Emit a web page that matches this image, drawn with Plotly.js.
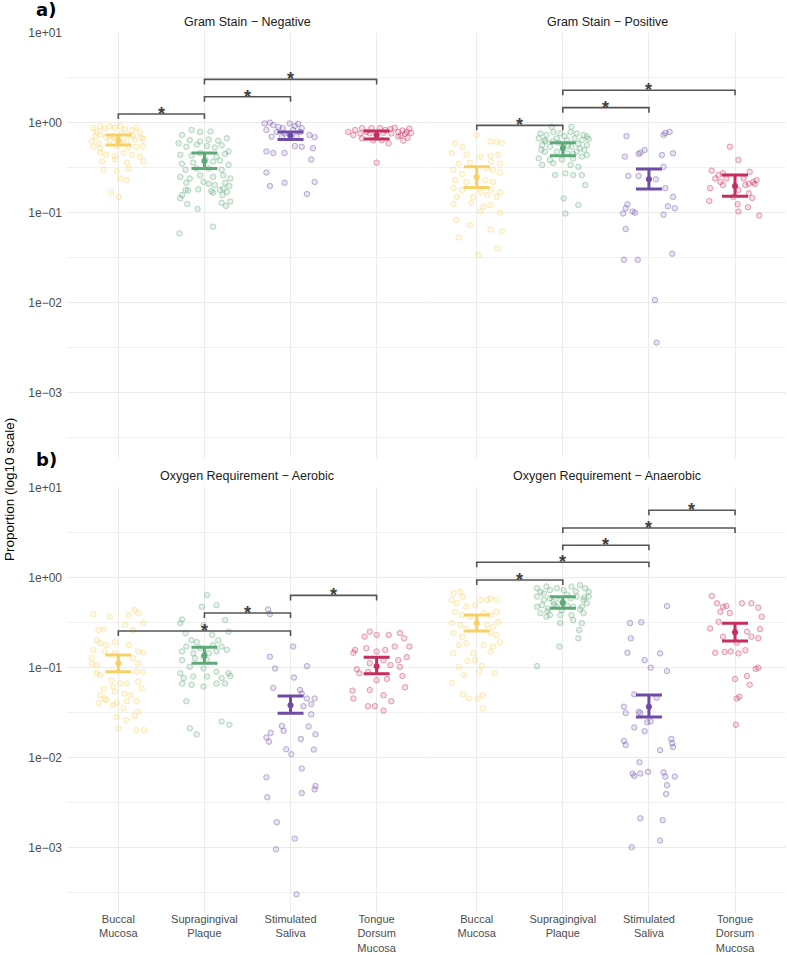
<!DOCTYPE html>
<html>
<head>
<meta charset="utf-8">
<script src="https://cdn.plot.ly/plotly-3.0.1.min.js"></script>
<style>html,body{margin:0;padding:0;background:#fff;}#chart{width:787px;height:955px;}</style>
</head>
<body>
<div id="chart"></div>
<script>
// ---------- DATA ----------
const tickLabels = ["Buccal<br>Mucosa", "Supragingival<br>Plaque", "Stimulated<br>Saliva", "Tongue<br>Dorsum<br>Mucosa"];
const panelTitles = ["Gram Stain − Negative", "Gram Stain − Positive", "Oxygen Requirement − Aerobic", "Oxygen Requirement − Anaerobic"];
const yTickVals = [0.001, 0.01, 0.1, 1, 10];
const yTickText = ["1e−03", "1e−02", "1e−01", "1e+00", "1e+01"];

// Gram negative
const gnBuccal = [0.87,0.79,0.91,0.86,0.90,0.88,0.92,0.85,0.83,0.89,0.78,0.70,0.74,0.69,0.72,0.76,0.73,0.71,0.68,0.62,0.59,0.64,0.67,0.61,0.62,0.65,0.66,0.54,0.52,0.55,0.53,0.54,0.55,0.46,0.44,0.43,0.46,0.44,0.42,0.37,0.39,0.36,0.37,0.30,0.29,0.31,0.24,0.23,0.17,0.15];
const gnBuccalJit = [-0.29,-0.25,-0.21,-0.16,-0.10,-0.04,0.02,0.08,0.16,0.21,0.25,-0.27,-0.21,-0.14,-0.06,0.04,0.12,0.17,0.27,-0.31,-0.23,-0.10,-0.04,0.02,0.10,0.19,0.29,-0.29,-0.21,-0.02,0.12,0.21,0.29,-0.21,-0.14,-0.04,0.06,0.16,0.25,-0.19,-0.04,0.10,0.29,-0.17,-0.02,0.12,0.02,0.10,-0.08,0.00];
const gnSupra = [0.73,0.83,0.79,0.80,0.64,0.62,0.65,0.63,0.67,0.59,0.54,0.57,0.55,0.53,0.56,0.48,0.44,0.43,0.46,0.42,0.45,0.35,0.36,0.39,0.37,0.38,0.34,0.30,0.31,0.31,0.30,0.25,0.24,0.26,0.25,0.26,0.24,0.215,0.145,0.157,0.179,0.176,0.125,0.11,0.182,0.22,0.21,0.174,0.167,0.179,0.157,0.185,0.17,0.198,0.129,0.119,0.133,0.059,0.070,0.203,0.215];
const gnSupraJit = [-0.26,-0.15,-0.05,0.07,-0.17,-0.05,0.05,0.16,0.26,-0.30,-0.21,-0.09,0.03,0.12,0.20,0.28,-0.28,-0.15,-0.05,0.14,0.24,-0.26,-0.13,0.01,0.10,0.18,0.28,-0.22,-0.09,0.05,0.20,-0.28,-0.17,-0.05,0.10,0.22,0.30,-0.21,-0.28,-0.26,-0.22,-0.19,-0.20,-0.08,-0.07,-0.01,0.05,0.08,0.10,0.18,0.21,0.22,0.26,0.29,0.20,0.25,0.30,-0.29,0.10,0.12,0.24];
const gnStim = [0.98,1.0,0.94,0.90,0.87,0.98,0.92,0.97,0.87,0.83,0.79,0.76,0.83,0.79,0.70,0.70,0.73,0.70,0.73,0.69,0.48,0.46,0.46,0.55,0.54,0.52,0.39,0.28,0.215,0.198,0.22,0.161];
const gnStimJit = [-0.30,-0.24,-0.20,-0.14,-0.09,-0.01,0.05,0.09,0.13,-0.28,-0.16,-0.07,0.03,0.11,-0.22,-0.10,-0.01,0.07,0.22,0.28,-0.28,-0.20,-0.07,0.05,0.13,0.26,0.24,-0.28,-0.07,-0.24,0.28,0.19];
const gnTongue = [0.79,0.83,0.87,0.79,0.87,0.87,0.83,0.85,0.88,0.79,0.73,0.76,0.76,0.73,0.77,0.76,0.70,0.64,0.64,0.59,0.67,0.36,0.82,0.75,0.68,0.86,0.63,0.79,0.72,0.77];
const gnTongueJit = [-0.33,-0.25,-0.17,-0.12,-0.06,0.04,0.10,0.16,0.21,0.25,-0.27,-0.19,-0.08,0.00,0.08,0.17,0.25,-0.04,0.06,0.14,-0.17,0.00,0.30,0.33,0.36,0.38,0.31,0.35,0.28,0.40];
const gnMean = [0.64, 0.375, 0.72, 0.73];
const gnLow  = [0.565, 0.31, 0.65, 0.66];
const gnHigh = [0.73, 0.46, 0.79, 0.81];
const gnBrFrom = [0, 1, 1];
const gnBrTo   = [1, 2, 3];
const gnBrY    = [1.25, 1.94, 3.03];

// Gram positive
const gpBuccal = [0.73,0.59,0.54,0.62,0.61,0.59,0.46,0.44,0.42,0.43,0.44,0.35,0.36,0.37,0.35,0.30,0.27,0.31,0.30,0.28,0.23,0.22,0.23,0.22,0.187,0.179,0.17,0.18,0.17,0.15,0.15,0.157,0.15,0.125,0.129,0.117,0.122,0.103,0.10,0.083,0.073,0.065,0.062,0.053,0.040,0.034];
const gpBuccalJit = [0.00,-0.25,-0.17,0.16,0.23,0.29,-0.29,-0.12,0.04,0.16,0.25,-0.21,-0.08,0.17,0.27,-0.27,-0.17,0.12,0.19,0.27,-0.25,-0.12,0.10,0.19,-0.27,-0.17,0.04,0.17,0.27,-0.23,-0.04,0.12,0.23,-0.27,-0.06,0.08,0.16,0.04,0.27,-0.24,-0.08,0.16,0.29,-0.21,0.24,0.02];
const gpSupra = [0.76,0.73,0.79,0.76,0.79,0.76,0.73,0.67,0.64,0.67,0.64,0.67,0.64,0.70,0.565,0.54,0.565,0.54,0.52,0.565,0.476,0.476,0.457,0.476,0.437,0.40,0.385,0.39,0.40,0.42,0.339,0.354,0.339,0.324,0.262,0.274,0.262,0.262,0.203,0.144,0.90,0.90,0.122,0.098,0.62,0.71,0.58,0.60,0.50,0.50,0.45,0.62,0.55,0.66];
const gpSupraJit = [-0.26,-0.19,-0.11,-0.03,0.09,0.16,0.24,-0.28,-0.21,-0.07,0.05,0.14,0.22,0.28,-0.24,-0.15,0.01,0.10,0.20,0.28,-0.21,-0.07,0.05,0.16,0.28,-0.28,-0.15,-0.01,0.12,0.22,-0.24,-0.11,0.09,0.18,-0.09,0.03,0.12,0.22,0.26,0.01,-0.13,0.10,0.18,0.03,-0.20,0.02,0.18,-0.05,0.25,-0.25,0.12,-0.12,0.06,0.30];
const gpStim = [0.71,0.77,0.79,0.73,0.465,0.497,0.45,0.437,0.457,0.42,0.256,0.256,0.235,0.324,0.187,0.15,0.124,0.112,0.103,0.10,0.098,0.095,0.118,0.112,0.066,0.030,0.030,0.035,0.0107,0.0036];
const gpStimJit = [-0.26,0.19,0.24,0.17,-0.10,-0.05,-0.12,0.15,0.28,-0.28,-0.24,-0.12,0.08,0.17,0.19,0.28,-0.25,-0.27,-0.19,-0.16,-0.30,0.17,0.22,0.30,-0.27,-0.29,-0.13,0.27,0.07,0.09];
const gpTongue = [0.54,0.385,0.293,0.262,0.274,0.24,0.22,0.24,0.24,0.285,0.22,0.23,0.203,0.179,0.164,0.203,0.15,0.187,0.135,0.146,0.124,0.115,0.103,0.093,0.208,0.21];
const gpTongueJit = [-0.06,0.04,-0.27,-0.19,-0.14,-0.23,-0.17,-0.10,0.10,0.17,0.21,0.25,0.12,0.04,0.16,-0.14,-0.02,-0.29,-0.30,0.20,0.03,0.15,0.04,0.28,0.23,0.16];
const gpMean = [0.25, 0.52, 0.235, 0.198];
const gpLow  = [0.191, 0.43, 0.183, 0.152];
const gpHigh = [0.324, 0.60, 0.306, 0.262];
const gpBrFrom = [0, 1, 1];
const gpBrTo   = [1, 2, 3];
const gpBrY    = [0.935, 1.47, 2.29];

// Aerobic
const aeBuccal = [0.39,0.365,0.38,0.433,0.40,0.31,0.26,0.264,0.295,0.26,0.20,0.185,0.177,0.19,0.156,0.15,0.143,0.15,0.145,0.126,0.126,0.177,0.106,0.11,0.11,0.086,0.082,0.089,0.089,0.072,0.066,0.058,0.061,0.066,0.069,0.058,0.054,0.051,0.049,0.045,0.049,0.043,0.040,0.042,0.040,0.042,0.038,0.035,0.032,0.028,0.026,0.029,0.020,0.020,0.021];
const aeBuccalJit = [-0.29,-0.10,0.12,0.19,0.23,0.29,-0.23,-0.17,0.08,0.17,-0.25,-0.21,-0.14,-0.04,-0.29,-0.16,-0.04,0.23,0.29,-0.31,0.17,0.12,-0.25,-0.31,0.23,-0.25,-0.21,0.21,0.29,-0.08,0.02,-0.17,-0.06,0.10,0.23,0.27,-0.04,0.07,-0.21,-0.16,0.14,-0.14,-0.02,0.10,-0.23,0.21,-0.06,0.06,0.23,-0.02,0.09,0.19,0.21,0.30,0.00];
const aeSupra = [0.636,0.47,0.49,0.34,0.31,0.24,0.335,0.295,0.229,0.20,0.20,0.19,0.17,0.163,0.177,0.17,0.249,0.15,0.143,0.143,0.15,0.156,0.131,0.12,0.126,0.12,0.086,0.101,0.097,0.089,0.086,0.080,0.076,0.079,0.079,0.076,0.066,0.064,0.061,0.066,0.066,0.042,0.021,0.018,0.025,0.023];
const aeSupraJit = [0.03,-0.03,0.14,-0.26,-0.28,-0.22,0.24,-0.01,0.09,0.16,-0.15,-0.09,-0.21,-0.05,0.10,0.20,0.28,-0.26,-0.13,0.05,0.14,0.26,-0.01,-0.26,-0.11,0.03,-0.28,-0.17,-0.01,0.14,0.28,0.30,-0.24,-0.13,0.03,0.20,-0.26,-0.15,-0.01,0.14,0.24,-0.21,-0.17,-0.09,0.20,0.29];
const aeStim = [0.44,0.39,0.17,0.131,0.097,0.103,0.059,0.077,0.056,0.051,0.037,0.045,0.039,0.045,0.030,0.022,0.018,0.0187,0.0166,0.0149,0.0223,0.0197,0.0123,0.0108,0.016,0.0122,0.0075,0.006,0.0048,0.0044,0.004,0.0036,0.0019,0.00125,0.00095,0.0003];
const aeStimJit = [-0.26,-0.24,0.03,-0.24,-0.18,0.19,-0.20,0.04,0.11,0.13,0.15,0.19,0.24,0.28,0.24,0.21,0.29,-0.23,-0.28,-0.25,-0.10,-0.08,-0.05,0.01,0.12,0.27,0.13,-0.28,0.29,0.28,0.13,-0.27,-0.16,0.05,-0.17,0.07];
const aeTongue = [0.249,0.229,0.229,0.24,0.219,0.145,0.156,0.163,0.15,0.156,0.17,0.095,0.086,0.111,0.089,0.12,0.106,0.101,0.12,0.055,0.056,0.049,0.045,0.037,0.037,0.033,0.042,0.072,0.074,0.21,0.13,0.08,0.17,0.06];
const aeTongueJit = [-0.08,0.00,0.14,0.27,-0.14,-0.27,-0.25,-0.12,0.00,0.10,0.21,-0.23,-0.20,-0.08,-0.10,0.08,0.16,0.27,0.25,-0.28,-0.08,0.08,-0.27,-0.10,-0.02,0.08,0.17,0.00,0.12,0.32,0.35,0.30,0.38,0.33];
const aeMean = [0.111, 0.135, 0.0378, 0.103];
const aeLow  = [0.089, 0.111, 0.0308, 0.085];
const aeHigh = [0.137, 0.167, 0.048, 0.129];
const aeBrFrom = [0, 1, 2];
const aeBrTo   = [2, 2, 3];
const aeBrY    = [0.253, 0.401, 0.63];

// Anaerobic
const anBuccal = [0.664,0.69,0.61,0.56,0.514,0.47,0.49,0.56,0.56,0.585,0.56,0.415,0.38,0.365,0.40,0.38,0.415,0.31,0.295,0.27,0.295,0.283,0.32,0.24,0.219,0.24,0.229,0.177,0.185,0.177,0.17,0.19,0.143,0.143,0.15,0.12,0.101,0.118,0.082,0.089,0.103,0.086,0.067,0.05,0.045,0.045,0.049,0.035];
const anBuccalJit = [-0.27,-0.19,-0.16,-0.29,-0.23,-0.12,-0.02,0.04,0.12,0.16,0.23,-0.25,-0.17,-0.08,0.08,0.16,0.23,-0.29,-0.19,-0.12,0.12,0.19,0.25,-0.27,-0.17,0.16,0.23,-0.21,-0.12,0.08,0.19,0.27,-0.27,-0.04,0.16,-0.02,-0.21,-0.11,-0.15,0.03,0.06,0.21,-0.29,-0.16,-0.09,0.01,0.07,0.07];
const anSupra = [0.755,0.69,0.79,0.72,0.755,0.72,0.79,0.82,0.755,0.69,0.61,0.56,0.585,0.535,0.56,0.585,0.61,0.56,0.61,0.47,0.49,0.45,0.47,0.433,0.49,0.47,0.47,0.514,0.40,0.38,0.38,0.38,0.40,0.365,0.31,0.335,0.31,0.26,0.21,0.17,0.103,0.66,0.64,0.70,0.50,0.60,0.52,0.42,0.44];
const anSupraJit = [-0.30,-0.26,-0.19,-0.15,-0.07,0.01,0.10,0.20,0.26,0.30,-0.30,-0.22,-0.15,-0.11,-0.03,0.09,0.16,0.24,0.30,-0.30,-0.24,-0.17,-0.07,-0.01,0.05,0.12,0.22,0.28,-0.26,-0.15,-0.03,0.10,0.24,-0.19,-0.03,0.12,0.22,0.19,0.18,-0.04,-0.30,-0.22,0.05,0.15,-0.10,0.25,0.00,-0.18,0.20];
const anStim = [0.48,0.31,0.316,0.21,0.145,0.143,0.12,0.099,0.091,0.05,0.046,0.0365,0.031,0.032,0.031,0.0245,0.025,0.0215,0.0195,0.0152,0.0137,0.016,0.0143,0.013,0.012,0.0088,0.0066,0.0062,0.0066,0.0069,0.0068,0.0061,0.0061,0.0049,0.0039,0.0021,0.0020,0.00119,0.001];
const anStimJit = [0.21,-0.22,-0.09,-0.21,-0.25,0.13,-0.05,0.02,0.21,-0.17,0.09,-0.29,-0.27,-0.12,-0.10,-0.02,0.02,-0.17,-0.05,-0.29,-0.27,0.26,0.27,0.28,0.13,-0.11,-0.19,-0.17,-0.10,-0.01,0.17,0.19,0.30,0.21,0.20,-0.10,0.16,0.13,-0.20];
const anTongue = [0.62,0.514,0.47,0.48,0.40,0.415,0.514,0.514,0.46,0.365,0.266,0.27,0.32,0.219,0.249,0.219,0.21,0.188,0.145,0.148,0.15,0.143,0.155,0.096,0.099,0.08,0.064,0.074,0.045,0.047,0.023];
const anTongueJit = [-0.27,-0.21,-0.14,-0.10,-0.06,-0.17,0.08,0.19,0.27,0.31,0.29,-0.29,-0.19,-0.14,0.14,0.19,0.27,0.02,-0.23,-0.12,-0.05,0.04,0.12,0.24,0.27,0.14,0.17,0.00,0.02,0.05,0.01];
const anMean = [0.308, 0.522, 0.0365, 0.245];
const anLow  = [0.253, 0.453, 0.028, 0.196];
const anHigh = [0.381, 0.608, 0.0492, 0.308];
const anBrFrom = [0, 0, 1, 1, 2];
const anBrTo   = [1, 2, 2, 3, 3];
const anBrY    = [0.933, 1.47, 2.27, 3.53, 5.55];

// ---------- STYLE ----------
const colorsRGB = [[247,209,104],[93,169,120],[110,76,165],[197,46,94]];
const rgba = (c, a) => `rgba(${c[0]},${c[1]},${c[2]},${a})`;
const FONT = "Liberation Sans, Arial, Helvetica, sans-serif";
const W = 787, H = 955;
const panels = [
  {vals:[gnBuccal,gnSupra,gnStim,gnTongue], jits:[gnBuccalJit,gnSupraJit,gnStimJit,gnTongueJit], mean:gnMean, low:gnLow, high:gnHigh, bf:gnBrFrom, bt:gnBrTo, by:gnBrY},
  {vals:[gpBuccal,gpSupra,gpStim,gpTongue], jits:[gpBuccalJit,gpSupraJit,gpStimJit,gpTongueJit], mean:gpMean, low:gpLow, high:gpHigh, bf:gpBrFrom, bt:gpBrTo, by:gpBrY},
  {vals:[aeBuccal,aeSupra,aeStim,aeTongue], jits:[aeBuccalJit,aeSupraJit,aeStimJit,aeTongueJit], mean:aeMean, low:aeLow, high:aeHigh, bf:aeBrFrom, bt:aeBrTo, by:aeBrY},
  {vals:[anBuccal,anSupra,anStim,anTongue], jits:[anBuccalJit,anSupraJit,anStimJit,anTongueJit], mean:anMean, low:anLow, high:anHigh, bf:anBrFrom, bt:anBrTo, by:anBrY}
];
// pixel geometry of panels
const xPix = [[67, 427, -0.596, 3.585], [428, 786, -0.566, 3.592]];
const yPix = [[32.7, 458.4], [487.3, 913]];
const tickDrop = 0.056; // bracket tick length in decades

const traces = [];
const annotations = [];
panels.forEach((p, pi) => {
  const s = pi === 0 ? '' : String(pi + 1);
  const xa = 'x' + s, ya = 'y' + s;
  for (let c = 0; c < 4; c++) {
    traces.push({
      type: 'scatter', mode: 'markers', xaxis: xa, yaxis: ya, hoverinfo: 'skip', showlegend: false,
      x: p.jits[c].map(j => c + j), y: p.vals[c],
      marker: {size: 5.5, color: rgba(colorsRGB[c], 0.16), line: {color: rgba(colorsRGB[c], 0.42), width: 1}}
    });
  }
  for (let c = 0; c < 4; c++) {
    traces.push({
      type: 'scatter', mode: 'markers', xaxis: xa, yaxis: ya, hoverinfo: 'skip', showlegend: false,
      x: [c], y: [p.mean[c]],
      marker: {size: 6, color: rgba(colorsRGB[c], 1)},
      error_y: {type: 'data', symmetric: false, array: [p.high[c] - p.mean[c]], arrayminus: [p.mean[c] - p.low[c]],
                color: rgba(colorsRGB[c], 1), thickness: 3, width: 13}
    });
  }
  const k = Math.pow(10, -tickDrop);
  p.by.forEach((yv, bi) => {
    const x1 = p.bf[bi], x2 = p.bt[bi];
    traces.push({
      type: 'scatter', mode: 'lines', xaxis: xa, yaxis: ya, hoverinfo: 'skip', showlegend: false,
      x: [x1, x1, x2, x2], y: [yv * k, yv, yv, yv * k],
      line: {color: '#555555', width: 1.6}
    });
    annotations.push({
      xref: xa, yref: ya, x: (x1 + x2) / 2, y: Math.log10(yv), text: '<b>*</b>', showarrow: false,
      yanchor: 'middle', yshift: 0, font: {family: FONT, size: 18, color: '#404040'}
    });
  });
});

const layout = {
  width: W, height: H, margin: {l: 0, r: 0, t: 0, b: 0},
  paper_bgcolor: '#ffffff', plot_bgcolor: '#ffffff', showlegend: false,
  annotations: annotations
};
for (let pi = 0; pi < 4; pi++) {
  const s = pi === 0 ? '' : String(pi + 1);
  const col = pi % 2, row = Math.floor(pi / 2);
  const xp = xPix[col], yp = yPix[row];
  layout['xaxis' + s] = {
    domain: [xp[0] / W, xp[1] / W], range: [xp[2], xp[3]], anchor: 'y' + s,
    tickmode: 'array', tickvals: [0, 1, 2, 3], ticktext: tickLabels,
    showticklabels: row === 1, ticks: '', showline: false, zeroline: false,
    showgrid: true, gridcolor: '#ebebeb', gridwidth: 1,
    ticklabelstandoff: -2,
    tickfont: {family: FONT, size: 11, color: '#4d4d4d'}, fixedrange: true
  };
  layout['yaxis' + s] = {
    type: 'log', domain: [1 - yp[1] / H, 1 - yp[0] / H], range: [-3.73, 1], anchor: 'x' + s,
    tickmode: 'array', tickvals: yTickVals, ticktext: yTickText,
    showticklabels: col === 0, ticks: '', showline: false, zeroline: false,
    showgrid: true, gridcolor: '#ebebeb', gridwidth: 1,
    minor: {tickmode: 'array', tickvals: [Math.pow(10,-3.5), Math.pow(10,-2.5), Math.pow(10,-1.5), Math.pow(10,-0.5), Math.pow(10,0.5)], showgrid: true, gridcolor: '#ebebeb', gridwidth: 0.7, ticks: ''},
    ticklabelstandoff: 4,
    tickfont: {family: FONT, size: 12, color: '#4d4d4d'}, fixedrange: true
  };
  annotations.push({
    xref: 'paper', yref: 'paper', x: (xp[0] + xp[1]) / 2 / W, y: 1 - (row === 0 ? 21.5 : 476) / H,
    text: panelTitles[pi], showarrow: false, xanchor: 'center', yanchor: 'middle',
    font: {family: FONT, size: 12.5, color: '#1a1a1a'}
  });
}
annotations.push({xref: 'paper', yref: 'paper', x: 46 / W, y: 1 - 9 / H, text: '<b>a)</b>', showarrow: false,
  xanchor: 'center', yanchor: 'middle', font: {family: 'DejaVu Sans, sans-serif', size: 18, color: '#000'}});
annotations.push({xref: 'paper', yref: 'paper', x: 46 / W, y: 1 - 459 / H, text: '<b>b)</b>', showarrow: false,
  xanchor: 'center', yanchor: 'middle', font: {family: 'DejaVu Sans, sans-serif', size: 18, color: '#000'}});
annotations.push({xref: 'paper', yref: 'paper', x: 9 / W, y: 1 - 490 / H, text: 'Proportion (log10 scale)', showarrow: false,
  textangle: -90, xanchor: 'center', yanchor: 'middle', font: {family: FONT, size: 13.5, color: '#000'}});

Plotly.newPlot('chart', traces, layout, {staticPlot: true, displayModeBar: false});
</script>
</body>
</html>
